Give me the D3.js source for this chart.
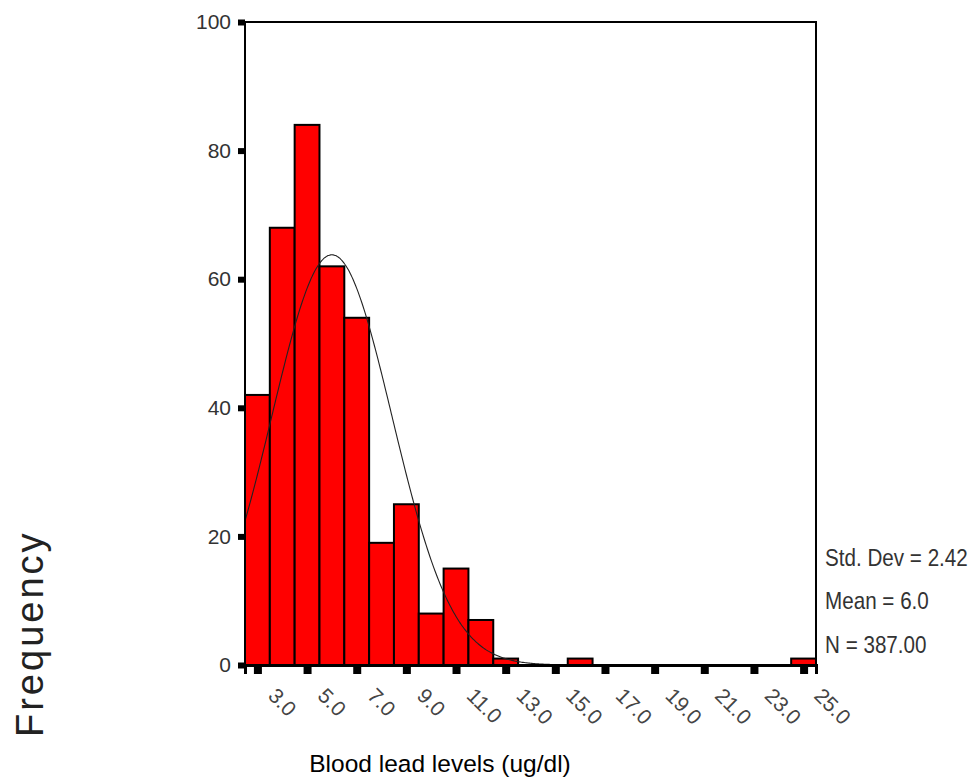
<!DOCTYPE html>
<html>
<head>
<meta charset="utf-8">
<script src="https://cdn.jsdelivr.net/npm/d3@7"></script>
<style>
  html, body { margin: 0; padding: 0; background: #fff; }
  svg { display: block; font-family: "Liberation Sans", Arial, sans-serif; }
</style>
</head>
<body>
<svg id="chart" width="976" height="778"></svg>
<script>
// ---- data ----
const binCenters = [3,4,5,6,7,8,9,10,11,12,13,14,15,16,17,18,19,20,21,22,23,24,25];
const frequencies = [42,68,84,62,54,19,25,8,15,7,1,0,0,1,0,0,0,0,0,0,0,0,1];
const xTickValues = [3,5,7,9,11,13,15,17,19,21,23,25];
const xTickLabels = ["3.0","5.0","7.0","9.0","11.0","13.0","15.0","17.0","19.0","21.0","23.0","25.0"];
const yTickValues = [0,20,40,60,80,100];
const statsLabels = ["Std. Dev = 2.42", "Mean = 6.0", "N = 387.00"];
const stdDev = 2.42, mean = 6.0, nTotal = 387, binWidth = 1;

// ---- layout ----
const svg = d3.select("#chart");
const plotLeft = 245, plotRight = 816, plotTop = 22, plotBottom = 665;
const x = d3.scaleLinear().domain([2.5, 25.5]).range([plotLeft, plotRight]);
const y = d3.scaleLinear().domain([0, 100]).range([plotBottom, plotTop]);

// bars
const bars = binCenters.map((c, i) => ({c, v: frequencies[i]})).filter(d => d.v > 0);
svg.append("g").selectAll("rect").data(bars).join("rect")
  .attr("x", d => x(d.c - binWidth / 2))
  .attr("width", d => x(d.c + binWidth / 2) - x(d.c - binWidth / 2))
  .attr("y", d => y(d.v))
  .attr("height", d => y(0) - y(d.v))
  .attr("fill", "#ff0000")
  .attr("stroke", "#000")
  .attr("stroke-width", 2);

// normal curve from the displayed statistics
const curvePts = d3.range(2.5, 25.5001, 0.05).map(v => [v,
  nTotal * binWidth / (stdDev * Math.sqrt(2 * Math.PI)) * Math.exp(-((v - mean) ** 2) / (2 * stdDev * stdDev))]);
svg.append("path")
  .datum(curvePts)
  .attr("fill", "none")
  .attr("stroke", "#222")
  .attr("stroke-width", 1.1)
  .attr("d", d3.line().x(d => x(d[0])).y(d => y(d[1])).curve(d3.curveBasis));

// frame
svg.append("rect")
  .attr("x", plotLeft).attr("y", plotTop)
  .attr("width", plotRight - plotLeft).attr("height", plotBottom - plotTop)
  .attr("fill", "none").attr("stroke", "#000").attr("stroke-width", 2);

// y axis
const yAxis = svg.append("g").attr("transform", `translate(${plotLeft},0)`)
  .call(d3.axisLeft(y).tickValues(yTickValues).tickFormat(d3.format("d")).tickSize(7).tickPadding(7));
yAxis.select(".domain").remove();
yAxis.selectAll(".tick line").attr("stroke", "#000").attr("stroke-width", 6);
yAxis.selectAll(".tick text").attr("font-size", 21).attr("fill", "#333")
  .attr("font-family", "Liberation Sans, Arial, sans-serif");

// x axis
const xAxis = svg.append("g").attr("transform", `translate(0,${plotBottom})`)
  .call(d3.axisBottom(x).tickValues(xTickValues).tickFormat((d, i) => xTickLabels[i]).tickSize(9));
xAxis.select(".domain").attr("stroke", "#000").attr("stroke-width", 3);
xAxis.selectAll(".tick line").attr("stroke", "#000").attr("stroke-width", 8);
xAxis.selectAll(".tick text")
  .attr("x", 0).attr("y", 0).attr("dy", 0)
  .attr("text-anchor", "start")
  .attr("transform", "translate(9,32) rotate(45)")
  .attr("font-size", 21).attr("fill", "#444")
  .attr("font-family", "Liberation Sans, Arial, sans-serif");

// stats text
const statsBaselines = [566, 609, 653];
svg.append("g").selectAll("text").data(statsLabels).join("text")
  .attr("transform", (d, i) => `translate(825,${statsBaselines[i]}) scale(0.86,1)`)
  .attr("font-size", 24)
  .attr("fill", "#333")
  .text(d => d);

// axis titles
svg.append("text")
  .attr("transform", "translate(43,737) rotate(-90)")
  .attr("font-size", 38)
  .attr("letter-spacing", 3)
  .attr("fill", "#222")
  .text("Frequency");

svg.append("text")
  .attr("x", 440).attr("y", 772)
  .attr("text-anchor", "middle")
  .attr("font-size", 24.5)
  .attr("fill", "#000")
  .text("Blood lead levels (ug/dl)");
</script>
</body>
</html>
